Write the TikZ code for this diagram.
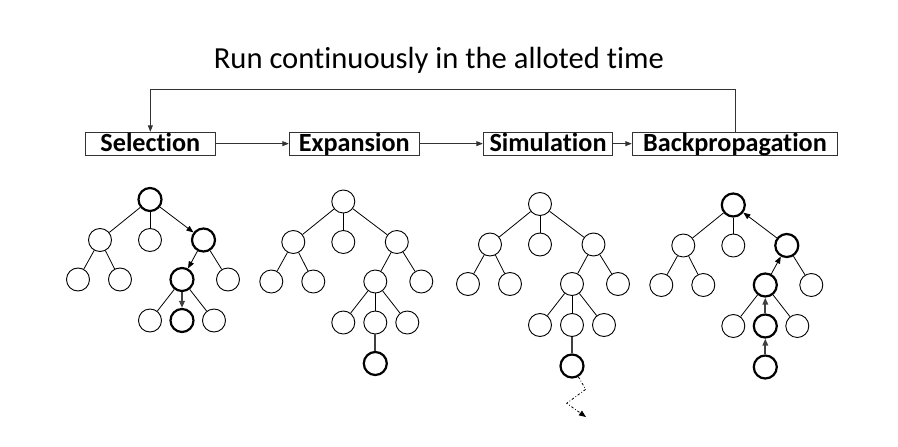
\documentclass[tikz,border=0pt]{standalone}
\usepackage{fontspec}
\setmainfont{Carlito}[Ligatures=NoCommon]
\usetikzlibrary{arrows.meta}

% node layout of one search tree, root at the scope origin
\newcommand\searchtree{%
  \node[vert,v-r]    (r)    at (0,0)      {};
  \node[vert,v-a]    (a)    at (-50,40.5) {};
  \node[vert,v-b]    (b)    at (0,40.5)   {};
  \node[vert,v-c]    (c)    at (53.5,40.5){};
  \node[vert,v-aa]   (aa)   at (-72,80)   {};
  \node[vert,v-ab]   (ab)   at (-30,80)   {};
  \node[vert,v-ca]   (ca)   at (32,80)    {};
  \node[vert,v-cb]   (cb)   at (78,80)    {};
  \node[vert,v-caa]  (caa)  at (0,121)    {};
  \node[vert,v-cab]  (cab)  at (32,121)   {};
  \node[vert,v-cac]  (cac)  at (64,121)   {};
  \draw[e-a]   (r)  -- (a);
  \draw[e-b]   (r)  -- (b);
  \draw[e-c]   (r)  -- (c);
  \draw[e-aa]  (a)  -- (aa);
  \draw[e-ab]  (a)  -- (ab);
  \draw[e-ca]  (c)  -- (ca);
  \draw[e-cb]  (c)  -- (cb);
  \draw[e-caa] (ca) -- (caa);
  \draw[e-cab] (ca) -- (cab);
  \draw[e-cac] (ca) -- (cac);
}

\tikzset{
  vert/.style={circle,draw=black,line width=0.9pt,minimum size=23pt,inner sep=0pt,fill=white},
  hot/.style={line width=2.2pt},
  v-r/.style={},v-a/.style={},v-b/.style={},v-c/.style={},
  v-aa/.style={},v-ab/.style={},v-ca/.style={},v-cb/.style={},
  v-caa/.style={},v-cab/.style={},v-cac/.style={},
  edge/.style={draw=black,line width=0.8pt},
  e-a/.style={edge},e-b/.style={edge},e-c/.style={edge},
  e-aa/.style={edge},e-ab/.style={edge},e-ca/.style={edge},e-cb/.style={edge},
  e-caa/.style={edge},e-cab/.style={edge},e-cac/.style={edge},
  tip/.style={-{Triangle[length=7pt,width=5.5pt]}},
  backtip/.style={{Triangle[length=7pt,width=5.5pt]}-},
  hotedge/.style={draw=black!75,line width=2pt},
  phase/.style={draw=black!80,line width=1pt,inner sep=0pt,
    font=\bfseries\fontsize{26.2}{26}\selectfont,
    text height=16pt,text depth=0pt,minimum height=22.7pt},
  flow/.style={draw=black!80,line width=0.9pt,-{Triangle[length=6.5pt,width=5pt]}},
}

\begin{document}
\begin{tikzpicture}[x=1pt,y=-1pt]
\useasboundingbox (0,0) rectangle (898,447);

% title
\node[anchor=base,inner sep=0pt,font=\fontsize{30.6}{30}\selectfont] (title) at (438.9,68)
  {Run continuously in the alloted time};

% the four phases
\node[phase,minimum width=129.3pt] (sel) at (150.35,143.65) {Selection};
\node[phase,minimum width=130pt]   (exp) at (354.3,143.65)  {Expansion};
\node[phase,minimum width=129.4pt] (sim) at (548,143.65)    {Simulation};
\node[phase,minimum width=205.4pt] (bp)  at (735,143.65)    {Backpropagation};

\draw[flow] (sel) -- (exp);
\draw[flow] (exp) -- (sim);
\draw[flow] (sim) -- (bp);
\coordinate (loop) at (0,89.3);
\draw[flow] (bp.north) -- (bp.north |- loop) -- (sel.north |- loop) -- (sel.north);

% selection: descend along the best children
\begin{scope}[shift={(150,199.5)},name prefix=s-,
  v-r/.style=hot,v-c/.style=hot,v-ca/.style=hot,v-cab/.style=hot,
  e-c/.style={edge,tip},e-ca/.style={edge,tip},e-cab/.style={hotedge,tip}]
  \searchtree
\end{scope}

% expansion: one new child is added
\begin{scope}[shift={(343.3,201.5)},name prefix=x-]
  \searchtree
  \node[vert,hot] (caba) at (32,162) {};
  \draw[hotedge] (cab) -- (caba);
\end{scope}

% simulation: random playout from the new node
\begin{scope}[shift={(540,204)},name prefix=m-]
  \searchtree
  \node[vert,hot] (caba) at (32,162) {};
  \draw[hotedge] (cab) -- (caba);
  \coordinate (z1) at (45.7,185.3);
  \coordinate (z2) at (26.7,199.3);
  \coordinate (z3) at (46,213);
  \draw[line width=0.8pt,dash pattern=on 2.5pt off 2pt on 0.8pt off 2pt,tip]
    (caba) -- (z1) -- (z2) -- (z3);
\end{scope}

% backpropagation: results travel back up to the root
\begin{scope}[shift={(733.3,205)},name prefix=b-,
  v-r/.style=hot,v-c/.style=hot,v-ca/.style=hot,v-cab/.style=hot,
  e-c/.style={edge,backtip},e-ca/.style={edge,backtip},e-cab/.style={hotedge,backtip}]
  \searchtree
  \node[vert,hot] (caba) at (32,162) {};
  \draw[hotedge,backtip] (cab) -- (caba);
\end{scope}
\end{tikzpicture}
\end{document}
